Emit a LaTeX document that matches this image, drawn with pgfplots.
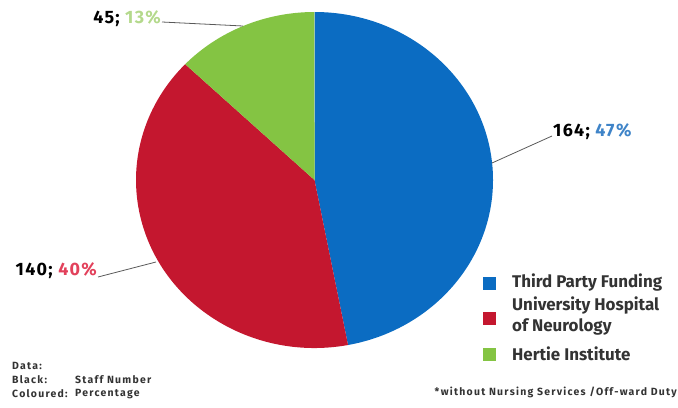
\documentclass[border=0pt]{standalone}
\usepackage{pgfplots}
\pgfplotsset{compat=1.18}
\usepackage{fontspec}
\setmainfont{Fira Sans}
\definecolor{cblue}{HTML}{0B6CC2}
\definecolor{cred}{HTML}{C4172F}
\definecolor{cgreen}{HTML}{84C443}
\definecolor{tblue}{HTML}{3F84C8}
\definecolor{tred}{HTML}{E2415B}
\definecolor{tgreen}{HTML}{B4D98C}
% data: staff numbers
\def\vA{164}% Third Party Funding
\def\vB{140}% University Hospital of Neurology
\def\vC{45}%  Hertie Institute
\begin{document}
\begin{tikzpicture}
\pgfmathsetmacro{\tot}{\vA+\vB+\vC}
\pgfmathsetmacro{\aA}{90-360*(\vA/\tot)}
\pgfmathsetmacro{\aB}{\aA-360*(\vB/\tot)}
\pgfmathsetmacro{\aC}{\aB-360*(\vC/\tot)}
\def\cx{314.5}\def\cy{227}\def\rx{178.5}\def\ry{168}
\begin{axis}[x=1bp,y=1bp,xmin=0,xmax=678,ymin=0,ymax=407,
  scale only axis,hide axis,clip=false]
\path (axis cs:0,0) rectangle (axis cs:678,407);
\fill[cblue] (axis cs:\cx,\cy) -- (axis cs:{\cx+\rx*cos(90)},{\cy+\ry*sin(90)})
  arc[start angle=90,end angle=\aA,x radius=\rx bp,y radius=\ry bp] -- cycle;
\fill[cred] (axis cs:\cx,\cy) -- (axis cs:{\cx+\rx*cos(\aA)},{\cy+\ry*sin(\aA)})
  arc[start angle=\aA,end angle=\aB,x radius=\rx bp,y radius=\ry bp] -- cycle;
\fill[cgreen] (axis cs:\cx,\cy) -- (axis cs:{\cx+\rx*cos(\aB)},{\cy+\ry*sin(\aB)})
  arc[start angle=\aB,end angle=\aC,x radius=\rx bp,y radius=\ry bp] -- cycle;
% leader lines
\draw[gray!70!black,line width=0.8bp] (axis cs:162,385) -- (axis cs:243,381);
\draw[gray!70!black,line width=0.8bp] (axis cs:552,271) -- (axis cs:492,244);
\draw[gray!70!black,line width=0.8bp] (axis cs:98,130) -- (axis cs:156,145);
% labels
\begin{scope}[every node/.style={inner sep=0pt,font=\bfseries\fontsize{18}{20}\selectfont\addfontfeature{LetterSpace=7}}]
\node[anchor=east] at (axis cs:161,388) {45; \textcolor{tgreen}{13\%}};
\node[anchor=west] at (axis cs:553,275) {164; \textcolor{tblue}{47\%}};
\node[anchor=east] at (axis cs:97,136) {140; \textcolor{tred}{40\%}};
\end{scope}
% legend
\fill[cblue] (axis cs:483,117) rectangle (axis cs:496,130);
\fill[cred] (axis cs:483,82) rectangle (axis cs:496,95);
\fill[cgreen] (axis cs:483,46) rectangle (axis cs:496,59);
\begin{scope}[every node/.style={anchor=west,inner sep=0pt,font=\bfseries\fontsize{17}{19}\selectfont,text=black!80}]
\node at (axis cs:512,124) {Third Party Funding};
\node at (axis cs:512,101) {University Hospital};
\node at (axis cs:512,80) {of Neurology};
\node at (axis cs:512,53) {Hertie Institute};
\end{scope}
% notes
\begin{scope}[every node/.style={anchor=west,inner sep=0pt,font=\bfseries\fontsize{10.5}{12}\selectfont\addfontfeature{LetterSpace=12},text=black!80}]
\node at (axis cs:12,41) {Data:};
\node at (axis cs:12,27) {Black:};
\node at (axis cs:75,27) {Staff Number};
\node at (axis cs:12,13) {Coloured:};
\node at (axis cs:75,13) {Percentage};
\node[anchor=east] at (axis cs:677,15) {*without Nursing Services /Off-ward Duty};
\end{scope}
\end{axis}
\end{tikzpicture}
\end{document}
